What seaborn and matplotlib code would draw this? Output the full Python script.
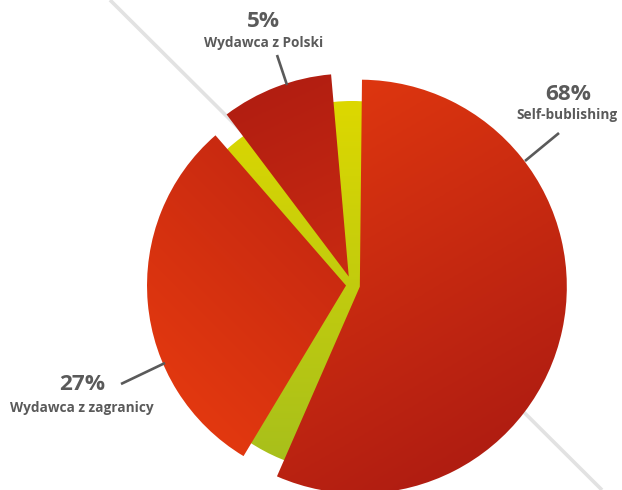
import numpy as np
import matplotlib
matplotlib.use("Agg")
import matplotlib.pyplot as plt
import seaborn as sns
from matplotlib.colors import LinearSegmentedColormap
from matplotlib.patches import Circle

# data
labels = ["Self-bublishing", "Wydawca z zagranicy", "Wydawca z Polski"]
percents = [68, 27, 5]
# sweep of each slice as drawn in the reference (degrees) and the gap after it
slice_deg = [203, 108, 32]
gap_deg = [7.4, 4.0, 5.6]

W, H = 622, 490
TEXT = "#5a5a5a"

sns.set_theme(style="white")
plt.rcParams["font.family"] = ["Open Sans", "DejaVu Sans"]

fig = plt.figure(figsize=(W / 100, H / 100), dpi=100)
ax = fig.add_axes([0, 0, 1, 1])


def px(x, y):
    # picture pixels (y down) -> axes data (y up)
    return x, H - y


def shade(patch, cx, cy, r, c1, c2, angle, z):
    n = 200
    g = np.linspace(-1, 1, n)
    X, Y = np.meshgrid(g, g)
    a = np.deg2rad(angle)
    t = np.clip((X * np.cos(a) + Y * np.sin(a) + 1) / 2, 0, 1)
    cmap = LinearSegmentedColormap.from_list("g", [c1, c2])
    im = ax.imshow(t, extent=(cx - r, cx + r, cy - r, cy + r), origin="lower",
                   cmap=cmap, vmin=0, vmax=1, zorder=z, interpolation="bilinear")
    im.set_clip_path(patch)


# light diagonal line behind everything
ax.plot([110, 602], [H - 0, H - 490], color="#e2e2e2", lw=2.6, zorder=0.5,
        solid_capstyle="butt")

# yellow-green disc underneath the slices
disc_c = px(352, 287)
disc = Circle(disc_c, 186, facecolor="none", edgecolor="none", zorder=1)
ax.add_patch(disc)
shade(disc, disc_c[0], disc_c[1], 186, "#a6bf1c", "#ddd800", 90, 1)

# red slices
sizes, explode = [], []
for s, g, e in zip(slice_deg, gap_deg, [8, 6, 9]):
    sizes += [s, g]
    explode += [e, 0]

wedges, _ = ax.pie(sizes, explode=explode, startangle=89.4, counterclock=False,
                   center=px(352, 285), radius=203, frame=True)

radii = [207, 199, 203]
grads = [("#e1380f", "#b01d12", -60),   # self-publishing: bright top-left -> dark bottom-right
         ("#e2380f", "#b31e12", 45),    # abroad: bright bottom-left -> dark top-right
         ("#b21e12", "#df3610", -65)]   # poland: dark top-left -> bright toward the centre
for i, w in enumerate(wedges):
    if i % 2:
        w.set_visible(False)
        continue
    k = i // 2
    w.set_radius(radii[k])
    w.set_facecolor("none")
    w.set_edgecolor("none")
    c1, c2, ang = grads[k]
    cx, cy = w.center
    shade(w, cx, cy, radii[k], c1, c2, ang, 2)

# labels with leader lines
label_pos = [(568, 95, 567, 115), (82, 385, 82, 408), (263, 22, 264, 43)]
leaders = [((559, 133), (525, 161)), ((121, 384), (165, 363)), ((277, 55), (287, 85))]
for lab, pct, (x1, y1, x2, y2), (p, q) in zip(labels, percents, label_pos, leaders):
    ax.text(*px(x1, y1), f"{pct}%", ha="center", va="center", fontsize=16.2,
            family="Open Sans", fontweight="bold", fontstretch="normal",
            color=TEXT, zorder=5)
    ax.text(*px(x2, y2), lab, ha="center", va="center", fontsize=9.8,
            family="Open Sans", fontweight="bold", fontstretch="normal",
            color=TEXT, zorder=5)
    ax.plot([p[0], q[0]], [H - p[1], H - q[1]], color=TEXT, lw=1.9, zorder=3,
            solid_capstyle="butt")

ax.set_xlim(0, W)
ax.set_ylim(0, H)
ax.set_aspect("equal")
ax.axis("off")

fig.savefig("out.png", dpi=100)
